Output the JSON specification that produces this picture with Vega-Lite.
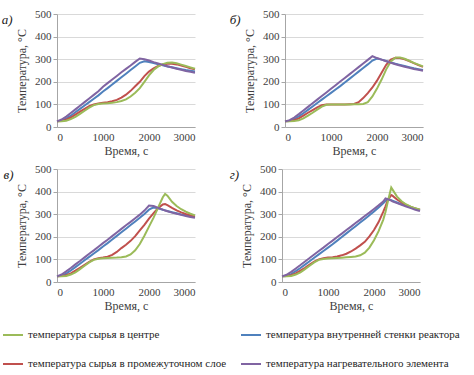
{
"$schema":"https://vega.github.io/schema/vega-lite/v6.json",
"padding":{"left":1,"top":8,"right":5,"bottom":5},
"background":"white",
"datasets":{"d":[
{"p":"a","t":0,"c":25,"m":25,"w":25,"h":25},
{"p":"a","t":100,"c":25,"m":27,"w":28,"h":33},
{"p":"a","t":200,"c":28,"m":32,"w":37,"h":46},
{"p":"a","t":300,"c":35,"m":42,"w":50,"h":62},
{"p":"a","t":400,"c":45,"m":55,"w":65,"h":78},
{"p":"a","t":500,"c":58,"m":68,"w":80,"h":94},
{"p":"a","t":600,"c":72,"m":80,"w":95,"h":110},
{"p":"a","t":700,"c":86,"m":92,"w":110,"h":126},
{"p":"a","t":800,"c":97,"m":100,"w":125,"h":142},
{"p":"a","t":900,"c":102,"m":104,"w":140,"h":158},
{"p":"a","t":1000,"c":104,"m":107,"w":157,"h":178},
{"p":"a","t":1100,"c":105,"m":110,"w":172,"h":194},
{"p":"a","t":1200,"c":107,"m":114,"w":188,"h":210},
{"p":"a","t":1300,"c":110,"m":120,"w":204,"h":226},
{"p":"a","t":1400,"c":115,"m":130,"w":220,"h":242},
{"p":"a","t":1500,"c":122,"m":143,"w":236,"h":257},
{"p":"a","t":1600,"c":135,"m":160,"w":252,"h":272},
{"p":"a","t":1700,"c":152,"m":180,"w":268,"h":288},
{"p":"a","t":1800,"c":172,"m":200,"w":284,"h":303},
{"p":"a","t":1900,"c":200,"m":225,"w":291,"h":300},
{"p":"a","t":2000,"c":228,"m":245,"w":288,"h":294},
{"p":"a","t":2100,"c":252,"m":260,"w":283,"h":287},
{"p":"a","t":2200,"c":268,"m":270,"w":278,"h":281},
{"p":"a","t":2300,"c":278,"m":277,"w":273,"h":275},
{"p":"a","t":2400,"c":284,"m":280,"w":268,"h":269},
{"p":"a","t":2500,"c":285,"m":280,"w":264,"h":263},
{"p":"a","t":2600,"c":282,"m":277,"w":260,"h":258},
{"p":"a","t":2700,"c":276,"m":272,"w":256,"h":253},
{"p":"a","t":2800,"c":270,"m":266,"w":252,"h":248},
{"p":"a","t":2900,"c":264,"m":260,"w":249,"h":244},
{"p":"a","t":3000,"c":258,"m":255,"w":246,"h":240},
{"p":"b","t":0,"c":25,"m":25,"w":25,"h":25},
{"p":"b","t":100,"c":25,"m":26,"w":27,"h":30},
{"p":"b","t":200,"c":26,"m":30,"w":35,"h":42},
{"p":"b","t":300,"c":30,"m":38,"w":47,"h":57},
{"p":"b","t":400,"c":38,"m":50,"w":61,"h":73},
{"p":"b","t":500,"c":50,"m":63,"w":76,"h":89},
{"p":"b","t":600,"c":63,"m":75,"w":91,"h":105},
{"p":"b","t":700,"c":77,"m":87,"w":106,"h":121},
{"p":"b","t":800,"c":90,"m":96,"w":121,"h":137},
{"p":"b","t":900,"c":98,"m":100,"w":136,"h":153},
{"p":"b","t":1000,"c":100,"m":100,"w":151,"h":169},
{"p":"b","t":1100,"c":100,"m":100,"w":166,"h":185},
{"p":"b","t":1200,"c":100,"m":100,"w":181,"h":201},
{"p":"b","t":1300,"c":100,"m":100,"w":197,"h":217},
{"p":"b","t":1400,"c":100,"m":101,"w":213,"h":233},
{"p":"b","t":1500,"c":101,"m":102,"w":229,"h":249},
{"p":"b","t":1600,"c":101,"m":110,"w":245,"h":265},
{"p":"b","t":1700,"c":102,"m":128,"w":261,"h":281},
{"p":"b","t":1800,"c":110,"m":150,"w":277,"h":297},
{"p":"b","t":1900,"c":135,"m":175,"w":294,"h":313},
{"p":"b","t":2000,"c":170,"m":205,"w":303,"h":305},
{"p":"b","t":2100,"c":210,"m":240,"w":298,"h":298},
{"p":"b","t":2200,"c":255,"m":275,"w":292,"h":291},
{"p":"b","t":2300,"c":290,"m":298,"w":286,"h":284},
{"p":"b","t":2400,"c":307,"m":306,"w":280,"h":278},
{"p":"b","t":2500,"c":308,"m":305,"w":275,"h":272},
{"p":"b","t":2600,"c":302,"m":300,"w":270,"h":267},
{"p":"b","t":2700,"c":293,"m":292,"w":265,"h":262},
{"p":"b","t":2800,"c":284,"m":283,"w":260,"h":257},
{"p":"b","t":2900,"c":276,"m":274,"w":256,"h":253},
{"p":"b","t":3000,"c":268,"m":266,"w":252,"h":249},
{"p":"v","t":0,"c":25,"m":25,"w":25,"h":25},
{"p":"v","t":100,"c":25,"m":26,"w":28,"h":33},
{"p":"v","t":200,"c":27,"m":30,"w":37,"h":47},
{"p":"v","t":300,"c":33,"m":38,"w":51,"h":62},
{"p":"v","t":400,"c":43,"m":50,"w":66,"h":78},
{"p":"v","t":500,"c":57,"m":63,"w":81,"h":93},
{"p":"v","t":600,"c":72,"m":76,"w":96,"h":109},
{"p":"v","t":700,"c":87,"m":89,"w":111,"h":125},
{"p":"v","t":800,"c":98,"m":100,"w":126,"h":140},
{"p":"v","t":900,"c":103,"m":105,"w":141,"h":156},
{"p":"v","t":1000,"c":105,"m":108,"w":157,"h":172},
{"p":"v","t":1100,"c":106,"m":112,"w":172,"h":187},
{"p":"v","t":1200,"c":107,"m":120,"w":188,"h":203},
{"p":"v","t":1300,"c":108,"m":133,"w":204,"h":219},
{"p":"v","t":1400,"c":110,"m":150,"w":220,"h":235},
{"p":"v","t":1500,"c":113,"m":165,"w":236,"h":251},
{"p":"v","t":1600,"c":122,"m":182,"w":252,"h":266},
{"p":"v","t":1700,"c":140,"m":203,"w":268,"h":282},
{"p":"v","t":1800,"c":168,"m":228,"w":284,"h":298},
{"p":"v","t":1900,"c":205,"m":253,"w":301,"h":316},
{"p":"v","t":2000,"c":245,"m":280,"w":320,"h":338},
{"p":"v","t":2100,"c":285,"m":305,"w":330,"h":336},
{"p":"v","t":2200,"c":330,"m":327,"w":326,"h":328},
{"p":"v","t":2300,"c":375,"m":343,"w":320,"h":320},
{"p":"v","t":2350,"c":390,"m":345,"w":317,"h":316},
{"p":"v","t":2400,"c":382,"m":340,"w":314,"h":313},
{"p":"v","t":2500,"c":355,"m":328,"w":309,"h":307},
{"p":"v","t":2600,"c":336,"m":317,"w":304,"h":302},
{"p":"v","t":2700,"c":322,"m":308,"w":299,"h":297},
{"p":"v","t":2800,"c":311,"m":301,"w":295,"h":292},
{"p":"v","t":2900,"c":302,"m":295,"w":291,"h":288},
{"p":"v","t":3000,"c":295,"m":290,"w":288,"h":284},
{"p":"g","t":0,"c":25,"m":25,"w":25,"h":25},
{"p":"g","t":100,"c":25,"m":26,"w":27,"h":32},
{"p":"g","t":200,"c":27,"m":30,"w":35,"h":45},
{"p":"g","t":300,"c":33,"m":38,"w":48,"h":60},
{"p":"g","t":400,"c":43,"m":50,"w":62,"h":75},
{"p":"g","t":500,"c":57,"m":63,"w":77,"h":91},
{"p":"g","t":600,"c":72,"m":77,"w":92,"h":106},
{"p":"g","t":700,"c":87,"m":90,"w":107,"h":122},
{"p":"g","t":800,"c":98,"m":100,"w":122,"h":137},
{"p":"g","t":900,"c":102,"m":105,"w":137,"h":152},
{"p":"g","t":1000,"c":104,"m":108,"w":152,"h":168},
{"p":"g","t":1100,"c":105,"m":110,"w":167,"h":183},
{"p":"g","t":1200,"c":106,"m":113,"w":183,"h":199},
{"p":"g","t":1300,"c":107,"m":118,"w":199,"h":214},
{"p":"g","t":1400,"c":109,"m":125,"w":215,"h":230},
{"p":"g","t":1500,"c":111,"m":135,"w":231,"h":245},
{"p":"g","t":1600,"c":113,"m":148,"w":247,"h":261},
{"p":"g","t":1700,"c":118,"m":162,"w":263,"h":276},
{"p":"g","t":1800,"c":130,"m":178,"w":279,"h":292},
{"p":"g","t":1900,"c":152,"m":202,"w":295,"h":307},
{"p":"g","t":2000,"c":185,"m":230,"w":312,"h":323},
{"p":"g","t":2100,"c":225,"m":265,"w":330,"h":339},
{"p":"g","t":2200,"c":275,"m":310,"w":348,"h":356},
{"p":"g","t":2250,"c":310,"m":335,"w":358,"h":370},
{"p":"g","t":2300,"c":355,"m":362,"w":368,"h":366},
{"p":"g","t":2375,"c":418,"m":385,"w":362,"h":360},
{"p":"g","t":2400,"c":410,"m":382,"w":360,"h":357},
{"p":"g","t":2500,"c":378,"m":365,"w":352,"h":349},
{"p":"g","t":2600,"c":357,"m":352,"w":344,"h":341},
{"p":"g","t":2700,"c":343,"m":341,"w":337,"h":334},
{"p":"g","t":2800,"c":333,"m":332,"w":330,"h":327},
{"p":"g","t":2900,"c":326,"m":325,"w":324,"h":320},
{"p":"g","t":3000,"c":320,"m":320,"w":318,"h":314}
]},
"data":{"name":"d"},
"vconcat":[
{"hconcat":[
{"width":138,"height":113,"title":{"text":"а)"},
"transform":[{"filter":"datum.p==='a'"},{"fold":["w","m","c","h"],"as":["s","T"]}],
"mark":{"type":"line","strokeWidth":2},
"encoding":{
"x":{"field":"t","type":"quantitative","scale":{"domain":[0,3000]},"axis":{"values":[0,1000,2000,3000],"format":"d","title":"Время, с","grid":false}},
"y":{"field":"T","type":"quantitative","scale":{"domain":[0,500]},"axis":{"values":[0,100,200,300,400,500],"format":"d","title":"Температура, °С"}},
"color":{"field":"s","type":"nominal","scale":{"domain":["c","w","m","h"],"range":["#9BBB59","#4F81BD","#C0504D","#8064A2"]},"legend":{"title":null,"labelExpr":"datum.label=='c'?'температура сырья в центре':datum.label=='w'?'температура внутренней стенки реактора':datum.label=='m'?'температура сырья в промежуточном слое':'температура нагревательного элемента'"}}}},
{"width":138,"height":113,"title":{"text":"б)"},
"transform":[{"filter":"datum.p==='b'"},{"fold":["w","m","c","h"],"as":["s","T"]}],
"mark":{"type":"line","strokeWidth":2},
"encoding":{
"x":{"field":"t","type":"quantitative","scale":{"domain":[0,3000]},"axis":{"values":[0,1000,2000,3000],"format":"d","title":"Время, с","grid":false}},
"y":{"field":"T","type":"quantitative","scale":{"domain":[0,500]},"axis":{"values":[0,100,200,300,400,500],"format":"d","title":"Температура, °С"}},
"color":{"field":"s","type":"nominal","scale":{"domain":["c","w","m","h"],"range":["#9BBB59","#4F81BD","#C0504D","#8064A2"]},"legend":{"title":null,"labelExpr":"datum.label=='c'?'температура сырья в центре':datum.label=='w'?'температура внутренней стенки реактора':datum.label=='m'?'температура сырья в промежуточном слое':'температура нагревательного элемента'"}}}}
],"spacing":30},
{"hconcat":[
{"width":138,"height":113,"title":{"text":"в)"},
"transform":[{"filter":"datum.p==='v'"},{"fold":["w","m","c","h"],"as":["s","T"]}],
"mark":{"type":"line","strokeWidth":2},
"encoding":{
"x":{"field":"t","type":"quantitative","scale":{"domain":[0,3000]},"axis":{"values":[0,1000,2000,3000],"format":"d","title":"Время, с","grid":false}},
"y":{"field":"T","type":"quantitative","scale":{"domain":[0,500]},"axis":{"values":[0,100,200,300,400,500],"format":"d","title":"Температура, °С"}},
"color":{"field":"s","type":"nominal","scale":{"domain":["c","w","m","h"],"range":["#9BBB59","#4F81BD","#C0504D","#8064A2"]},"legend":{"title":null,"labelExpr":"datum.label=='c'?'температура сырья в центре':datum.label=='w'?'температура внутренней стенки реактора':datum.label=='m'?'температура сырья в промежуточном слое':'температура нагревательного элемента'"}}}},
{"width":138,"height":113,"title":{"text":"г)"},
"transform":[{"filter":"datum.p==='g'"},{"fold":["w","m","c","h"],"as":["s","T"]}],
"mark":{"type":"line","strokeWidth":2},
"encoding":{
"x":{"field":"t","type":"quantitative","scale":{"domain":[0,3000]},"axis":{"values":[0,1000,2000,3000],"format":"d","title":"Время, с","grid":false}},
"y":{"field":"T","type":"quantitative","scale":{"domain":[0,500]},"axis":{"values":[0,100,200,300,400,500],"format":"d","title":"Температура, °С"}},
"color":{"field":"s","type":"nominal","scale":{"domain":["c","w","m","h"],"range":["#9BBB59","#4F81BD","#C0504D","#8064A2"]},"legend":{"title":null,"labelExpr":"datum.label=='c'?'температура сырья в центре':datum.label=='w'?'температура внутренней стенки реактора':datum.label=='m'?'температура сырья в промежуточном слое':'температура нагревательного элемента'"}}}}
],"spacing":30}
],
"spacing":7,
"config":{
"view":{"stroke":null},
"font":"Times New Roman",
"style":{"guide-label":{"font":"Times New Roman"},"guide-title":{"font":"Times New Roman"}},
"title":{"orient":"left","anchor":"end","angle":0,"baseline":"middle","align":"left","frame":"group","offset":-8,"fontStyle":"italic","fontWeight":"normal","fontSize":13,"font":"Times New Roman","color":"#222"},
"axis":{"labelFont":"Times New Roman","titleFont":"Times New Roman","labelFontSize":11,"titleFontSize":12,"titleFontWeight":"normal","labelColor":"#404040","titleColor":"#404040","domainColor":"#a6a6a6","tickColor":"#a6a6a6","gridColor":"#d9d9d9","tickSize":4,"labelPadding":2},
"axisX":{"titlePadding":3,"ticks":false,"labelPadding":4},
"axisY":{"titlePadding":6},
"legend":{"orient":"none","legendX":-55,"legendY":310,"columns":2,"direction":"horizontal","symbolType":"stroke","symbolSize":400,"symbolStrokeWidth":2,"labelFont":"Times New Roman","labelFontSize":11,"labelColor":"#262626","labelLimit":300,"columnPadding":10,"rowPadding":13}
}
}
